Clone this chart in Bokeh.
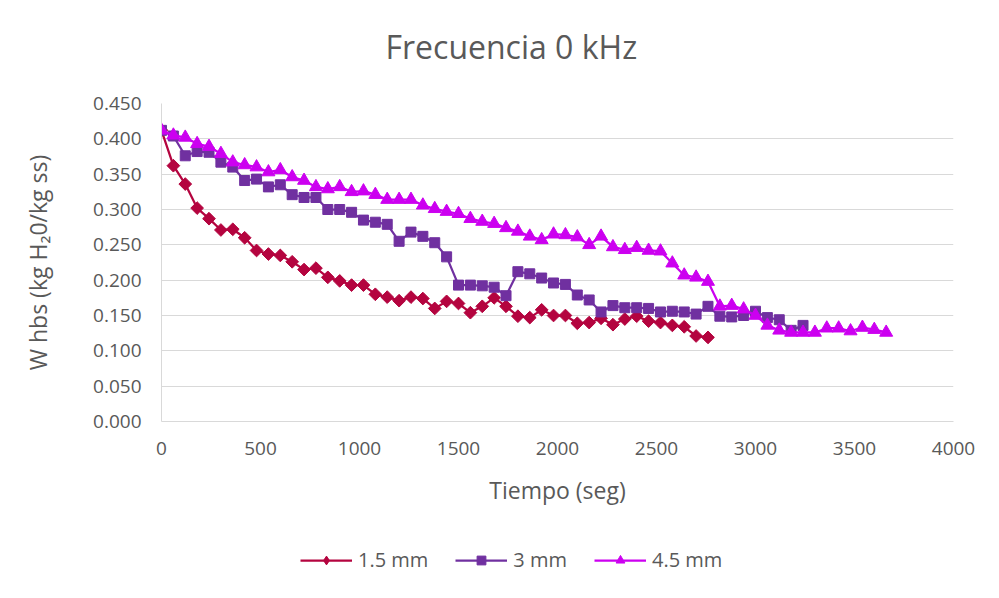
from bokeh.plotting import figure
from bokeh.layouts import column
from bokeh.models import FixedTicker, NumeralTickFormatter, Legend, LegendItem, Range1d
from bokeh.embed import file_html
from bokeh.resources import INLINE

# ---- data ----
t_15 = [0, 60, 120, 180, 240, 300, 360, 420, 480, 540, 600, 660, 720, 780, 840, 900,
        960, 1020, 1080, 1140, 1200, 1260, 1320, 1380, 1440, 1500, 1560, 1620, 1680,
        1740, 1800, 1860, 1920, 1980, 2040, 2100, 2160, 2220, 2280, 2340, 2400, 2460,
        2520, 2580, 2640, 2700, 2760]
w_15 = [0.412, 0.362, 0.336, 0.302, 0.287, 0.271, 0.272, 0.260, 0.242, 0.237, 0.235,
        0.226, 0.215, 0.217, 0.204, 0.199, 0.193, 0.193, 0.180, 0.176,
        0.171, 0.176, 0.174, 0.160, 0.170, 0.167, 0.154, 0.163, 0.175, 0.163,
        0.149, 0.147, 0.158, 0.150, 0.150, 0.139, 0.140, 0.146, 0.137, 0.145,
        0.149, 0.142, 0.140, 0.136, 0.134, 0.121, 0.119]

t_3 = [0, 60, 120, 180, 240, 300, 360, 420, 480, 540, 600, 660, 720, 780, 840, 900,
       960, 1020, 1080, 1140, 1200, 1260, 1320, 1380, 1440, 1500, 1560, 1620, 1680,
       1740, 1800, 1860, 1920, 1980, 2040, 2100, 2160, 2220, 2280, 2340, 2400, 2460,
       2520, 2580, 2640, 2700, 2760, 2820, 2880, 2940, 3000, 3060, 3120, 3180, 3240]
w_3 = [0.412, 0.404, 0.376, 0.382, 0.381, 0.367, 0.360, 0.341, 0.343, 0.332, 0.335,
       0.321, 0.317, 0.317, 0.300, 0.300, 0.296, 0.285, 0.282, 0.279, 0.255, 0.268,
       0.262, 0.253, 0.233, 0.193, 0.193, 0.192, 0.190, 0.178, 0.212, 0.209, 0.203,
       0.196, 0.194, 0.179, 0.172, 0.155, 0.164, 0.161, 0.161, 0.160, 0.155, 0.156,
       0.155, 0.152, 0.163, 0.149, 0.148, 0.150, 0.156, 0.147, 0.144, 0.129, 0.136]

t_45 = [0, 60, 120, 180, 240, 300, 360, 420, 480, 540, 600, 660, 720, 780, 840, 900,
        960, 1020, 1080, 1140, 1200, 1260, 1320, 1380, 1440, 1500, 1560, 1620, 1680,
        1740, 1800, 1860, 1920, 1980, 2040, 2100, 2160, 2220, 2280, 2340, 2400, 2460,
        2520, 2580, 2640, 2700, 2760, 2820, 2880, 2940, 3000, 3060, 3120, 3180, 3240,
        3300, 3360, 3420, 3480, 3540, 3600, 3660]
w_45 = [0.412, 0.405, 0.402, 0.393, 0.389, 0.379, 0.367, 0.363, 0.360, 0.353, 0.356,
        0.346, 0.341, 0.332, 0.329, 0.332, 0.325, 0.326, 0.321, 0.314, 0.314, 0.314,
        0.306, 0.301, 0.297, 0.294, 0.287, 0.283, 0.280, 0.274, 0.269, 0.262, 0.257,
        0.265, 0.264, 0.261, 0.250, 0.262, 0.247, 0.243, 0.246, 0.242, 0.241, 0.224,
        0.207, 0.204, 0.198, 0.163, 0.164, 0.159, 0.150, 0.136, 0.129, 0.126, 0.126,
        0.126, 0.132, 0.132, 0.128, 0.133, 0.130, 0.126]

x_ticks = [0, 500, 1000, 1500, 2000, 2500, 3000, 3500, 4000]
y_ticks = [0.0, 0.05, 0.10, 0.15, 0.20, 0.25, 0.30, 0.35, 0.40, 0.45]

chart_title = "Frecuencia 0 kHz"
series_names = ["1.5 mm", "3 mm", "4.5 mm"]
colors = ["#B4043F", "#7030A0", "#CC00F0"]

FONT = "Open Sans"
TXT = "#595959"

# ---- title strip ----
top = figure(width=999, height=90, x_range=Range1d(0, 1), y_range=Range1d(0, 1),
             output_backend="svg", toolbar_location=None,
             x_axis_location=None, y_axis_location=None,
             min_border_left=161, min_border_right=46,
             min_border_top=73, min_border_bottom=0)
top.grid.visible = False
top.outline_line_color = None
top.title.text = chart_title
top.title.align = "left"
top.title.offset = 224
top.title.vertical_align = "middle"
top.title.text_font = FONT
top.title.text_font_size = "32px"
top.title.text_font_style = "normal"
top.title.text_color = TXT

# ---- main chart ----
p = figure(width=999, height=440, x_range=(0, 4000), y_range=(0, 0.45),
           output_backend="svg", toolbar_location=None, title_location=None,
           min_border_left=161, min_border_right=46,
           min_border_top=13, min_border_bottom=109)

p.outline_line_color = None
p.xgrid.grid_line_color = None
p.ygrid.grid_line_color = "#D9D9D9"
p.ygrid.grid_line_width = 1

for ax in (p.xaxis[0], p.yaxis[0]):
    ax.axis_line_color = "#D9D9D9"
    ax.major_tick_line_color = None
    ax.minor_tick_line_color = None
    ax.major_label_text_font = FONT
    ax.major_label_text_font_size = "19px"
    ax.major_label_text_color = TXT
    ax.axis_label_text_font = FONT
    ax.axis_label_text_font_size = "23px"
    ax.axis_label_text_font_style = "normal"
    ax.axis_label_text_color = TXT

p.xaxis.ticker = FixedTicker(ticks=x_ticks)
p.yaxis.ticker = FixedTicker(ticks=y_ticks)
p.yaxis.formatter = NumeralTickFormatter(format="0.000")
p.xaxis.major_label_standoff = 14
p.yaxis.major_label_standoff = 14
p.xaxis.axis_label = "Tiempo (seg)"
p.yaxis.axis_label = "W hbs (kg H\u20820/kg ss)"
p.xaxis.axis_label_standoff = 16
p.yaxis.axis_label_standoff = 36


def draw(fig, in_legend=False):
    if in_legend:
        m1_kw = dict(marker="diamond", size=15)
    else:
        m1_kw = dict(marker="square", angle=0.7853982, size=9)
    l1 = fig.line(t_15, w_15, line_color=colors[0], line_width=2.25)
    m1 = fig.scatter(t_15, w_15, fill_color=colors[0], line_color=colors[0], **m1_kw)
    l2 = fig.line(t_3, w_3, line_color=colors[1], line_width=2.25)
    m2 = fig.scatter(t_3, w_3, marker="square", size=10,
                     fill_color=colors[1], line_color=colors[1])
    l3 = fig.line(t_45, w_45, line_color=colors[2], line_width=2.25)
    m3 = fig.scatter(t_45, w_45, marker="triangle", size=13,
                     fill_color=colors[2], line_color=colors[2])
    return [(l1, m1), (l2, m2), (l3, m3)]


draw(p)

# ---- legend strip (its renderers use the same data, kept out of view) ----
leg = figure(width=999, height=68, x_range=Range1d(-20000, -19000), y_range=Range1d(5, 6),
             output_backend="svg", toolbar_location=None, title_location=None,
             x_axis_location=None, y_axis_location=None,
             min_border_left=0, min_border_right=0, min_border_top=0, min_border_bottom=0)
leg.grid.visible = False
leg.outline_line_color = None
pairs = draw(leg, in_legend=True)

items = [LegendItem(label=name, renderers=list(pr)) for name, pr in zip(series_names, pairs)]
legend = Legend(items=items, orientation="horizontal", location=(139, 25),
                label_text_font=FONT, label_text_font_size="20px", label_text_color=TXT,
                glyph_width=52, glyph_height=22, spacing=27, label_standoff=6,
                border_line_color=None, background_fill_alpha=0,
                margin=0, padding=0)
leg.add_layout(legend, "center")

open("out.html", "w").write(file_html(column(top, p, leg, spacing=0), INLINE))
